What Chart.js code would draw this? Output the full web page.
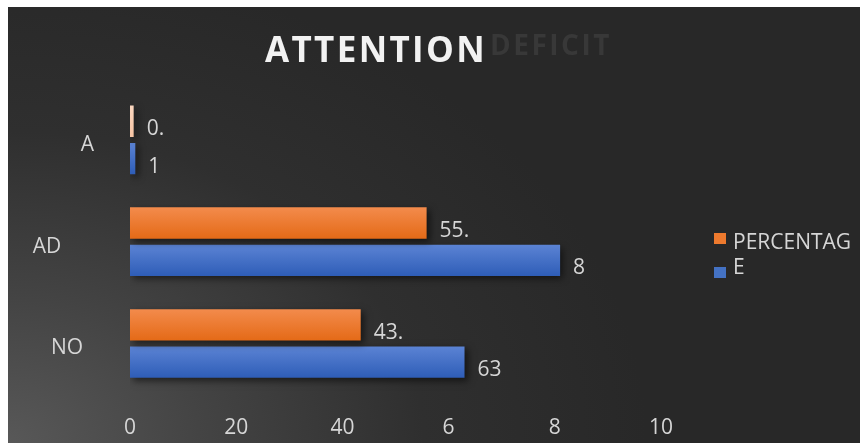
<!DOCTYPE html>
<html>
<head>
<meta charset="utf-8">
<script src="https://cdn.jsdelivr.net/npm/chart.js@4.4.1/dist/chart.umd.min.js"></script>
<style>
  html, body { margin: 0; padding: 0; background: #ffffff; width: 860px; height: 443px; overflow: hidden; }
  #wrap {
    position: absolute; left: 8px; top: 7px; width: 852px; height: 436px;
    background: radial-gradient(ellipse 75% 110% at 0% 100%, #585858 0%, #444444 30%, #2f2f2f 65%, #282828 100%);
  }
  canvas { display: block; }
</style>
</head>
<body>
<div id="wrap"><canvas id="c" width="852" height="436"></canvas></div>
<script>
// ---- data ----
const categories = ['A', 'AD', 'NO'];
const percentValues = [0.69, 55.86, 43.45];
const countValues = [1, 81, 63];
const seriesNames = ['PERCENTAG', 'E'];
const percentLabels = ['0.', '55.', '43.'];
const countLabels = ['1', '8', '63'];
const tickLabels = ['0', '20', '40', '6', '8', '10'];
const titleMain = 'ATTENTION';
const titleShadow = 'DEFICIT';

// ---- styling ----
const FONT = "'Open Sans', 'Noto Sans', sans-serif";
const TEXT = '#d6d6d6';
const yLabelPad = ['', '      ', '  '];
const palettes = [
  [['#fad7c0', '#f6c4a4'], ['#f38b4c', '#e46a17'], ['#f38b4c', '#e46a17']],
  [['#5b83d4', '#2e5db7'], ['#5b83d4', '#2e5db7'], ['#5b83d4', '#2e5db7']]
];
const legendColors = ['#ee7a2e', '#4472c4'];

const gradientPlugin = {
  id: 'barGradient',
  beforeDatasetsDraw(chart) {
    const ctx = chart.ctx;
    chart.data.datasets.forEach((ds, di) => {
      const meta = chart.getDatasetMeta(di);
      meta.data.forEach((el, i) => {
        const h = el.height;
        const g = ctx.createLinearGradient(0, el.y - h / 2, 0, el.y + h / 2);
        g.addColorStop(0, palettes[di][i][0]);
        g.addColorStop(1, palettes[di][i][1]);
        el.options.backgroundColor = g;
      });
    });
    ctx.save();
    ctx.shadowColor = 'rgba(0,0,0,0.55)';
    ctx.shadowBlur = 7;
    ctx.shadowOffsetX = 3;
    ctx.shadowOffsetY = 3;
  },
  afterDatasetsDraw(chart) {
    const ctx = chart.ctx;
    ctx.restore();
    // data labels
    ctx.save();
    ctx.font = '21px ' + FONT;
    ctx.fillStyle = TEXT;
    ctx.textAlign = 'left';
    ctx.textBaseline = 'middle';
    const labelSets = [percentLabels, countLabels];
    chart.data.datasets.forEach((ds, di) => {
      const meta = chart.getDatasetMeta(di);
      meta.data.forEach((el, i) => {
        ctx.fillText(labelSets[di][i], el.x + 13, el.y + 8);
      });
    });
    ctx.restore();
  }
};

const titlePlugin = {
  id: 'twoToneTitle',
  afterDraw(chart) {
    const ctx = chart.ctx;
    ctx.save();
    ctx.textBaseline = 'alphabetic';
    ctx.textAlign = 'left';
    ctx.font = 'bold 28px ' + FONT;
    ctx.fillStyle = '#383838';
    let w = ctx.measureText(titleShadow).width;
    ctx.letterSpacing = ((122 - w) / titleShadow.length).toFixed(2) + 'px';
    ctx.fillText(titleShadow, 482, 48);
    ctx.letterSpacing = '0px';
    ctx.font = 'bold 35px ' + FONT;
    ctx.fillStyle = '#f2f2f2';
    w = ctx.measureText(titleMain).width;
    ctx.letterSpacing = ((222 - w) / titleMain.length).toFixed(2) + 'px';
    ctx.fillText(titleMain, 257, 55);
    ctx.restore();
  }
};

const legendPlugin = {
  id: 'sideLegend',
  afterDraw(chart) {
    const ctx = chart.ctx;
    ctx.save();
    ctx.font = '21px ' + FONT;
    ctx.textBaseline = 'middle';
    ctx.textAlign = 'left';
    const boxes = [[706, 226], [706, 260]];
    const texts = [236, 261];
    chart.data.datasets.forEach((ds, di) => {
      ctx.fillStyle = legendColors[di];
      ctx.fillRect(boxes[di][0], boxes[di][1], 12, 11);
      ctx.fillStyle = TEXT;
      ctx.fillText(ds.label, 725, texts[di]);
    });
    ctx.restore();
  }
};

new Chart(document.getElementById('c'), {
  type: 'bar',
  data: {
    labels: categories,
    datasets: [
      { label: seriesNames[0], data: percentValues, backgroundColor: (c) => palettes[0][c.dataIndex][1], borderWidth: 0 },
      { label: seriesNames[1], data: countValues, backgroundColor: (c) => palettes[1][c.dataIndex][1], borderWidth: 0 }
    ]
  },
  options: {
    indexAxis: 'y',
    responsive: false,
    animation: false,
    maintainAspectRatio: false,
    categoryPercentage: 0.734,
    barPercentage: 0.84,
    layout: { padding: { top: 82, right: 199, left: 0, bottom: 0 } },
    plugins: {
      legend: { display: false },
      title: { display: false },
      tooltip: { enabled: false }
    },
    scales: {
      x: {
        min: 0, max: 100,
        grid: { display: false, drawTicks: false },
        border: { display: false },
        afterFit(s) { s.height = 42; },
        ticks: {
          stepSize: 20,
          padding: 21,
          color: TEXT,
          font: { family: FONT, size: 21 },
          maxRotation: 0,
          callback: (v, i) => tickLabels[i]
        }
      },
      y: {
        grid: { display: false, drawTicks: false },
        border: { display: false },
        afterFit(s) { s.width = 122; },
        ticks: {
          padding: 36,
          labelOffset: 5,
          color: TEXT,
          font: { family: FONT, size: 21 },
          callback: (v, i) => categories[i] + yLabelPad[i]
        }
      }
    }
  },
  plugins: [gradientPlugin, titlePlugin, legendPlugin]
});
</script>
</body>
</html>
